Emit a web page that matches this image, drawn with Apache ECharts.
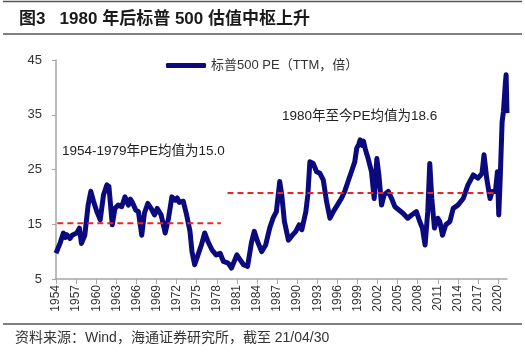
<!DOCTYPE html>
<html>
<head>
<meta charset="utf-8">
<script src="https://cdn.jsdelivr.net/npm/echarts@6/dist/echarts.min.js"></script>
<style>
  html, body { margin: 0; padding: 0; background: #fff; }
  #chart { width: 525px; height: 352px; }
</style>
</head>
<body>
<div id="chart"></div>
<script>
// 标普500 PE(TTM),读图估计
var years = [
  1954.0, 1954.6, 1955.1, 1955.4, 1955.6, 1956.1, 1956.4, 1956.6, 1957.1, 1957.5, 1957.8, 1958.3,
  1958.8, 1959.2, 1959.6, 1960.1, 1960.6, 1961.1, 1961.6, 1961.9, 1962.4, 1962.8,
  1963.3, 1963.8, 1964.3, 1964.8, 1965.1, 1965.4, 1965.9, 1966.3, 1966.8, 1967.2, 1967.7,
  1968.2, 1968.7, 1969.1, 1969.7, 1970.3, 1970.8, 1971.3, 1971.8, 1972.1, 1972.4, 1973.0,
  1973.5, 1974.0, 1974.3, 1974.7, 1975.2, 1975.7, 1976.2, 1976.7, 1977.3, 1977.9,
  1978.5, 1979.0, 1979.7, 1980.2, 1981.0, 1981.5, 1982.0, 1982.6, 1983.2, 1983.6,
  1984.1, 1984.7, 1985.3, 1985.9, 1986.4, 1986.9, 1987.4, 1987.7, 1988.1, 1988.7,
  1989.3, 1989.8, 1990.3, 1990.7, 1991.3, 1991.6, 1991.9, 1992.4, 1992.9, 1993.4,
  1993.9, 1994.4, 1994.9, 1995.4, 1996.0, 1996.6, 1997.1, 1997.6, 1998.1, 1998.6,
  1998.9, 1999.2, 1999.4, 1999.7, 1999.9, 2000.2, 2000.6, 2001.1, 2001.5, 2001.9, 2002.2, 2002.6,
  2003.0, 2003.6, 2004.1, 2004.6, 2005.2, 2005.8, 2006.5, 2007.1, 2007.8, 2008.3,
  2008.7, 2009.1, 2009.5, 2009.8, 2010.1, 2010.5, 2011.0, 2011.3, 2011.7, 2012.2,
  2012.8, 2013.3, 2014.0, 2014.8, 2015.5, 2016.3, 2017.0, 2017.6, 2017.9, 2018.3,
  2018.8, 2019.1, 2019.6, 2019.9, 2020.1, 2020.3, 2020.6, 2020.8, 2021.1, 2021.2,
  2021.33
];
var pe = [
  9.7, 11.5, 13.4, 12.6, 13.1, 12.4, 13.0, 12.7, 13.4, 14.3, 11.5, 13.0,
  18.5, 21.0, 19.2, 17.3, 15.8, 20.4, 22.2, 21.9, 14.9, 17.9,
  18.5, 18.2, 20.0, 18.5, 19.6, 19.0, 17.6, 17.3, 13.0, 17.0, 18.8,
  17.9, 16.7, 17.9, 16.7, 13.4, 16.1, 20.0, 19.4, 19.8, 19.0, 19.2,
  16.7, 13.7, 10.0, 7.6, 9.4, 11.2, 13.4, 11.8, 10.3, 9.4,
  9.7, 8.2, 7.9, 7.0, 9.4, 8.5, 7.6, 7.3, 11.8, 13.7,
  11.8, 10.0, 11.2, 14.3, 16.1, 17.3, 22.8, 20.4, 15.5, 12.1,
  13.0, 13.7, 14.9, 14.0, 17.3, 20.4, 26.4, 26.1, 24.6, 24.3,
  23.1, 19.1, 16.1, 17.3, 18.5, 19.7, 21.0, 22.8, 24.6, 26.4,
  28.9, 29.6, 30.4, 29.4, 30.2, 28.6, 27.0, 24.6, 19.7, 27.0, 24.0, 18.5,
  20.4, 21.0, 19.7, 18.2, 17.6, 17.0, 16.1, 16.7, 17.3, 15.5,
  14.3, 11.2, 17.3, 26.1, 19.7, 14.3, 16.1, 15.5, 13.0, 14.9,
  15.5, 17.9, 18.5, 19.7, 22.2, 24.0, 23.4, 24.3, 27.7, 23.4,
  19.7, 21.0, 21.0, 24.6, 16.7, 22.8, 33.7, 35.6, 41.0, 42.3,
  35.3
];
// 均值虚线(图中位置)
var avgEarlyYears = [1954.2, 1978.6];
var avgEarly = [15.2, 15.2];
var avgLateYears = [1979.6, 2019.6];
var avgLate = [20.7, 20.7];
var tickYears = [1954, 1957, 1960, 1963, 1966, 1969, 1972, 1975, 1978, 1981, 1984,
  1987, 1990, 1993, 1996, 1999, 2002, 2005, 2008, 2011, 2014, 2017, 2020];

var zip = function (xs, ys) {
  var out = [];
  for (var i = 0; i < xs.length; i++) out.push([xs[i], ys[i]]);
  return out;
};

var font = 'Liberation Sans, Arial, Noto Sans CJK SC, sans-serif';
var chart = echarts.init(document.getElementById('chart'));
var option = {
  animation: false,
  textStyle: { fontFamily: font },
  title: {
    text: '图3   1980 年后标普 500 估值中枢上升',
    left: 14, top: 6,
    textStyle: { fontSize: 17, fontWeight: 'bold', color: '#1a1a1a', fontFamily: font }
  },
  legend: {
    data: ['标普500 PE（TTM，倍）'],
    left: 161, top: 54,
    icon: 'roundRect',
    itemWidth: 40, itemHeight: 5,
    itemGap: 4,
    textStyle: { fontSize: 13, color: '#333', fontFamily: font }
  },
  grid: { left: 56, right: 18, top: 60, bottom: 73 },
  xAxis: {
    type: 'value',
    min: 1954, max: 2021.33,
    axisLine: { show: true, lineStyle: { color: '#a6a6a6', width: 1.5 } },
    axisTick: { show: true, length: 5, lineStyle: { color: '#a6a6a6' }, customValues: tickYears },
    axisLabel: {
      rotate: 90, fontSize: 12, color: '#333', margin: 6,
      customValues: tickYears,
      formatter: function (v) { return String(v); }
    },
    splitLine: { show: false }
  },
  yAxis: {
    type: 'value',
    min: 5, max: 45, interval: 10,
    axisLine: { show: true, lineStyle: { color: '#a6a6a6', width: 1.5 } },
    axisTick: { show: true, length: 4, lineStyle: { color: '#a6a6a6' } },
    axisLabel: { fontSize: 13, color: '#333', margin: 14 },
    splitLine: { show: false }
  },
  series: [
    {
      name: '标普500 PE（TTM，倍）',
      type: 'line',
      data: zip(years, pe),
      showSymbol: false,
      symbol: 'none',
      lineStyle: { color: '#0a0a7e', width: 5, join: 'round' },
      itemStyle: { color: '#0a0a7e' },
      z: 2
    },
    {
      name: 'avg1',
      type: 'line',
      data: zip(avgEarlyYears, avgEarly),
      symbol: 'none',
      lineStyle: { color: '#e8262a', width: 2, type: [6, 4] },
      z: 3
    },
    {
      name: 'avg2',
      type: 'line',
      data: zip(avgLateYears, avgLate),
      symbol: 'none',
      lineStyle: { color: '#e8262a', width: 2, type: [6, 4] },
      z: 3
    }
  ],
  graphic: [
    { type: 'line', shape: { x1: 3, y1: 1.5, x2: 522, y2: 1.5 }, style: { stroke: '#555', lineWidth: 1.5 } },
    { type: 'line', shape: { x1: 3, y1: 34, x2: 522, y2: 34 }, style: { stroke: '#555', lineWidth: 1.5 } },
    { type: 'line', shape: { x1: 3, y1: 324, x2: 522, y2: 324 }, style: { stroke: '#555', lineWidth: 1.5 } },
    { type: 'text', left: 62, top: 145, style: { text: '1954-1979年PE均值为15.0', fontSize: 13.5, fill: '#222', fontFamily: font } },
    { type: 'text', left: 282, top: 110, style: { text: '1980年至今PE均值为18.6', fontSize: 13.5, fill: '#222', fontFamily: font } },
    { type: 'text', left: 15, top: 331, style: { text: '资料来源：Wind，海通证券研究所，截至 21/04/30', fontSize: 14, fill: '#333', fontFamily: font } }
  ]
};
chart.setOption(option);
</script>
</body>
</html>
